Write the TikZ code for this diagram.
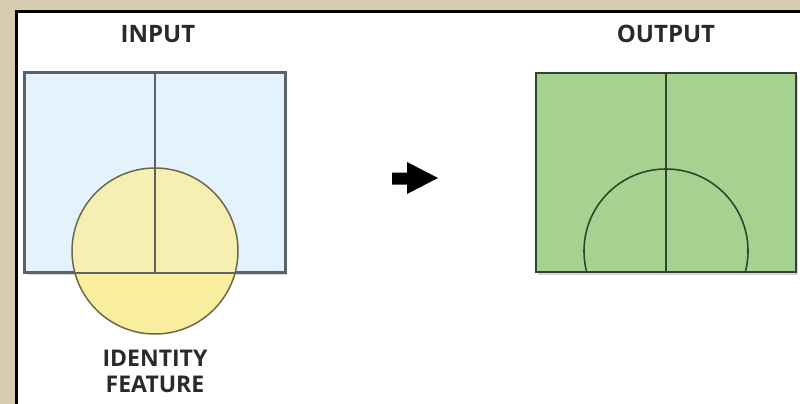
\documentclass[tikz,border=0pt]{standalone}
\usepackage{fontspec}
\setmainfont{Open Sans}
\usetikzlibrary{shadows,calc}
\definecolor{beige}{HTML}{D8CAAE}
\definecolor{lblue}{HTML}{E3F2FC}
\definecolor{edgegray}{HTML}{5C6166}
\definecolor{ylw}{HTML}{F9EE9E}
\definecolor{ylwpale}{HTML}{F5EFB2}
\definecolor{ylwedge}{HTML}{6E6845}
\definecolor{grn}{HTML}{A7D191}
\definecolor{grnedge}{HTML}{34432F}
\definecolor{txt}{HTML}{2A2A2A}
\tikzset{
  title/.style={font=\bfseries\fontsize{24}{28}\selectfont, text=txt, inner sep=0pt},
  panel/.style={draw=edgegray, line width=1.6pt, inner sep=0pt, minimum width=260pt, minimum height=199pt,
    drop shadow={shadow xshift=2pt, shadow yshift=-3pt, opacity=0.3}},
}
\begin{document}
\begin{tikzpicture}[x=1pt,y=-1pt]
\useasboundingbox (0,0) rectangle (800,404);
\fill[beige] (0,0) rectangle (800,404);
\fill[white] (16,12) rectangle (800,404);
\draw[black, line width=3pt] (16,404) -- (16,12) -- (800,12);

% input rectangle
\node[panel, fill=lblue] (inrect) at (155,172.5) {};
\fill[ylw] (155,251) circle (83);
\begin{scope}
  \clip (25,73) rectangle (285,272);
  \fill[ylwpale] (155,251) circle (83);
\end{scope}
\coordinate (intop) at (155,73);
\coordinate (inbot) at (155,272);
\draw[edgegray, line width=1.6pt] (inrect.north west) rectangle (inrect.south east);
\draw[edgegray, line width=1.6pt] (intop) -- (inbot);
\draw[ylwedge, line width=1.5pt] (155,251) circle (83);

\node[title] (inputlbl) at (158,34) {INPUT};
\node[title, align=center, font=\bfseries\fontsize{23}{26}\selectfont] (idlbl) at (155,371) {IDENTITY\\FEATURE};

% arrow
\fill[black] (392,172.5) -- (407,172.5) -- (407,162) -- (438,178) -- (407,194) -- (407,184.5) -- (392,184.5) -- cycle;

% output rectangle
\node[panel, fill=grn, draw=grnedge, line width=1.4pt] (outrect) at (666,172.5) {};
\coordinate (outtop) at (666,73);
\coordinate (outbot) at (666,272);
\begin{scope}
  \clip (536,73) rectangle (796,272);
  \draw[grnedge, line width=1.6pt] (666,251) circle (82);
\end{scope}
\draw[grnedge, line width=1.6pt] (outtop) -- (outbot);
\draw[grnedge, line width=1.4pt] (outrect.north west) rectangle (outrect.south east);
\node[title] (outputlbl) at (666,34) {OUTPUT};
\end{tikzpicture}
\end{document}
